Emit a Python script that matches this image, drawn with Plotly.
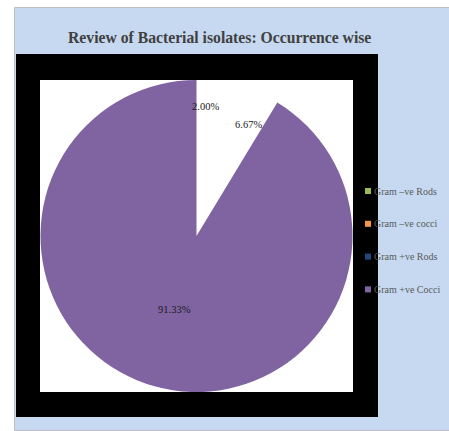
import math
import plotly.graph_objects as go

# Bacterial isolate groups and their share of occurrences (%)
categories = ["Gram \u2013ve Rods", "Gram \u2013ve cocci", "Gram +ve Rods", "Gram +ve Cocci"]
shares = [0.00, 2.00, 6.67, 91.33]
legend_colors = ["#9BBB59", "#F79646", "#1F497D", "#8064A2"]
slice_colors = ["#FFFFFF", "#FFFFFF", "#FFFFFF", "#8064A2"]

W, H = 449, 431


def px(x):
    return x / W


def py(y):
    return 1 - y / H


# only non-zero groups get a slice
pie_labels = [c for c, v in zip(categories, shares) if v > 0]
pie_values = [v for v in shares if v > 0]
pie_colors = [col for col, v in zip(slice_colors, shares) if v > 0]

fig = go.Figure()
fig.add_trace(go.Pie(
    labels=pie_labels,
    values=pie_values,
    sort=False,
    direction="clockwise",
    rotation=0,
    marker=dict(colors=pie_colors, line=dict(width=0)),
    textinfo="none",
    hoverinfo="label+percent",
    showlegend=False,
    domain=dict(x=[px(40), px(353)], y=[py(392), py(80)]),
))

shapes = [
    # outer chart area
    dict(type="rect", xref="paper", yref="paper", x0=px(14.5), x1=px(452), y0=py(430.5), y1=py(7.5),
         fillcolor="#C6D9F1", line=dict(color="#BFBFBF", width=1), layer="below"),
    # plot frame
    dict(type="rect", xref="paper", yref="paper", x0=px(16), x1=px(378), y0=py(417), y1=py(54),
         fillcolor="#000000", line=dict(width=0), layer="below"),
    dict(type="rect", xref="paper", yref="paper", x0=px(40), x1=px(353), y0=py(392), y1=py(80),
         fillcolor="#FFFFFF", line=dict(width=0), layer="below"),
]

annotations = [
    dict(text="<b>Review of Bacterial isolates: Occurrence wise</b>", xref="paper", yref="paper",
         x=px(219.5), y=py(37), showarrow=False, xanchor="center", yanchor="middle",
         font=dict(family="Liberation Serif", size=15.7, color="#404040")),
]

# percentage labels placed along each slice's mid-angle
cx, cy, R = 196.5, 236, 156
radial = {2.00: 0.83, 6.67: 0.79, 91.33: 0.49}
angle_shift = {2.00: 0.5, 6.67: 6.0, 91.33: 1.0}
total = sum(pie_values)
start = 0.0
for v in pie_values:
    span = 360 * v / total
    mid = math.radians(start + span / 2 + angle_shift[v])
    r = R * radial[v]
    x = cx + r * math.sin(mid)
    y = cy - r * math.cos(mid)
    annotations.append(dict(text=f"{v / total * 100:.2f}%", xref="paper", yref="paper",
                            x=px(x), y=py(y), showarrow=False, xanchor="center", yanchor="middle",
                            font=dict(family="Liberation Serif", size=10.5, color="#1A1A1A")))
    start += span

# legend entries
for i, (name, col) in enumerate(zip(categories, legend_colors)):
    yc = 191 + i * 32.8
    shapes.append(dict(type="rect", xref="paper", yref="paper", x0=px(365), x1=px(371),
                       y0=py(yc + 3), y1=py(yc - 3), fillcolor=col, line=dict(width=0)))
    annotations.append(dict(text=name, xref="paper", yref="paper", x=px(371.5), y=py(yc),
                            showarrow=False, xanchor="left", yanchor="middle",
                            font=dict(family="Liberation Serif", size=10, color="#595959")))

fig.update_layout(
    width=W, height=H,
    margin=dict(l=0, r=0, t=0, b=0),
    paper_bgcolor="#FFFFFF",
    plot_bgcolor="#FFFFFF",
    shapes=shapes,
    annotations=annotations,
    showlegend=False,
)

fig.write_html("out.html")
